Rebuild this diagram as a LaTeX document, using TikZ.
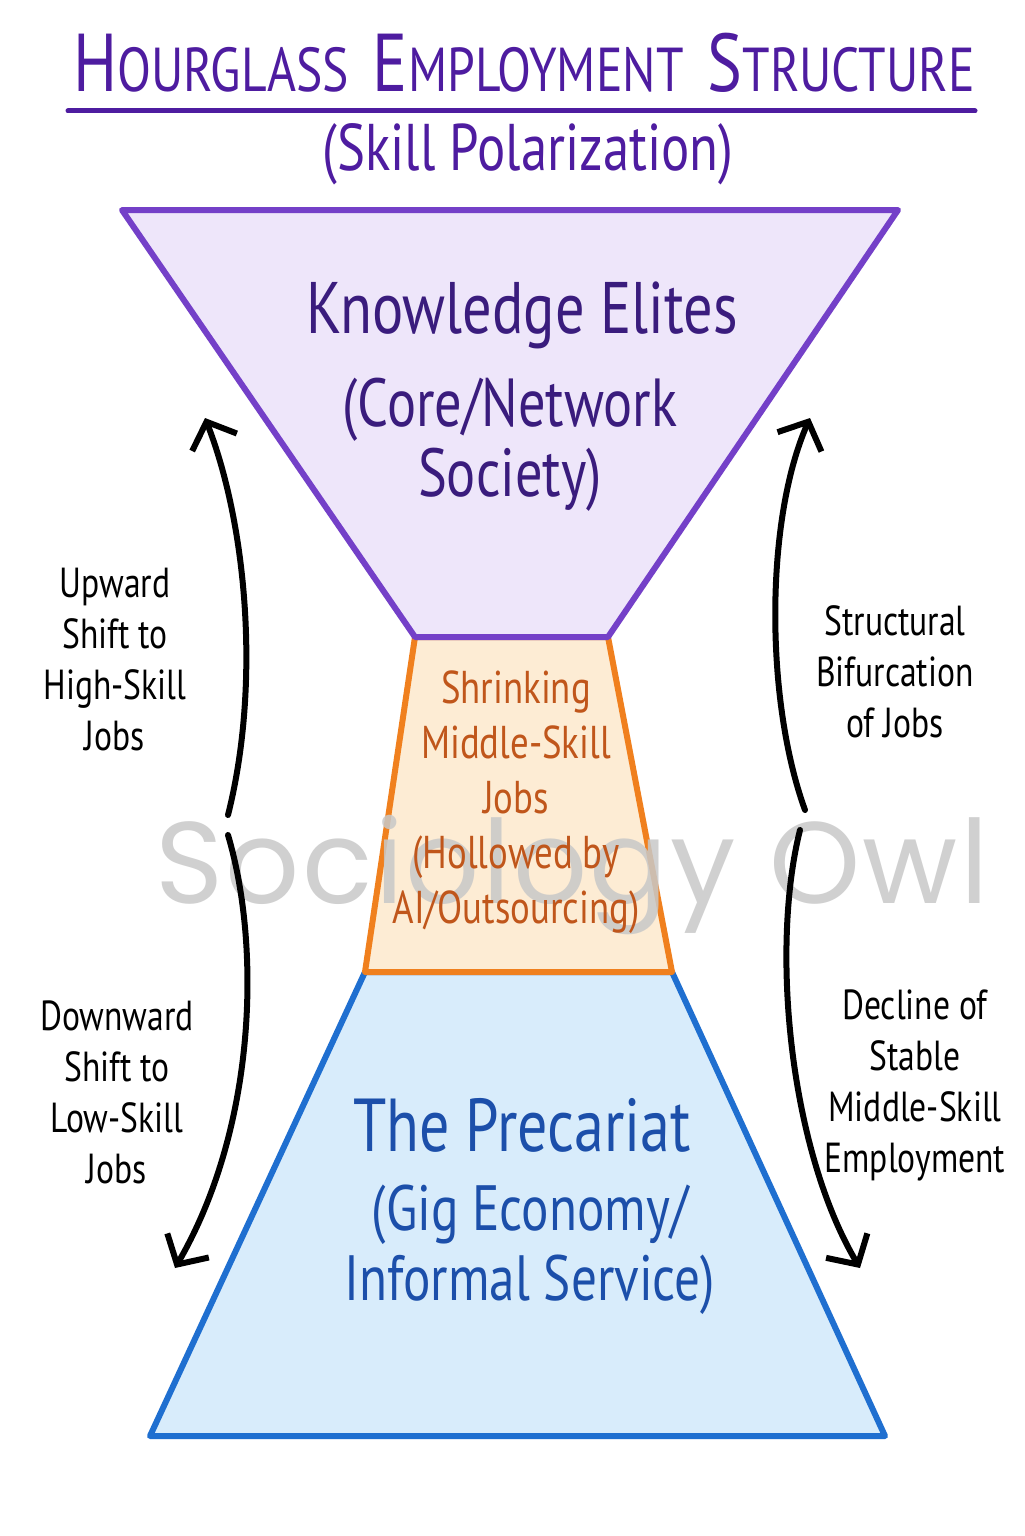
\documentclass[tikz,border=0pt]{standalone}
\usepackage{fontspec}
\setmainfont[FakeStretch=0.8]{PT Sans}
\newfontfamily\markfont[LetterSpace=2]{Poppins}
\usetikzlibrary{arrows.meta}

\definecolor{titlepurple}{RGB}{78,28,160}
\definecolor{elitefill}{RGB}{238,230,250}
\definecolor{elitedraw}{RGB}{116,64,200}
\definecolor{elitetext}{RGB}{58,28,125}
\definecolor{middlefill}{RGB}{253,236,212}
\definecolor{middledraw}{RGB}{240,128,30}
\definecolor{middletext}{RGB}{192,86,27}
\definecolor{precfill}{RGB}{216,236,251}
\definecolor{precdraw}{RGB}{31,111,208}
\definecolor{prectext}{RGB}{28,79,170}
\definecolor{markgray}{RGB}{200,200,200}

\newcommand{\tcap}[2]{{\fontsize{41}{43}\selectfont #1}{\fontsize{31}{33}\selectfont #2}}

\tikzset{
  layer/.style={line width=3pt, line join=round},
  shiftarrow/.style={line width=3pt, line cap=round,
    -{Straight Barb[length=11pt,width=24pt,line width=3pt]}},
  sidelabel/.style={align=center, inner sep=0pt,
    font=\fontsize{21}{25.5}\selectfont},
}

\begin{document}
\begin{tikzpicture}[x=0.5pt,y=-0.5pt]
\useasboundingbox (0,0) rectangle (1024,1536);
\fill[white] (0,0) rectangle (1024,1536);

% title
\node[anchor=base, inner sep=0pt, text=titlepurple] (title) at (524,92)
  {\tcap{H}{OURGLASS}\hspace{12pt}\tcap{E}{MPLOYMENT}\hspace{12pt}\tcap{S}{TRUCTURE}};
\coordinate (ruleL) at (68,111);
\coordinate (ruleR) at (975,111);
\draw[titlepurple, line width=2.5pt, line cap=round] (ruleL) -- (ruleR);
\node[inner sep=0pt, text=titlepurple, font=\fontsize{33}{35}\selectfont] (subtitle) at (528,154)
  {(Skill Polarization)};

% the three layers
\coordinate (topL) at (122,210);
\coordinate (topR) at (898,210);
\coordinate (neckL) at (415,637);
\coordinate (neckR) at (608,637);
\coordinate (waistL) at (365,972);
\coordinate (waistR) at (672,972);
\coordinate (baseL) at (150,1436);
\coordinate (baseR) at (885,1436);
\filldraw[layer, fill=precfill, draw=precdraw] (waistL) -- (waistR) -- (baseR) -- (baseL) -- cycle;
\filldraw[layer, fill=middlefill, draw=middledraw] (neckL) -- (neckR) -- (waistR) -- (waistL) -- cycle;
\filldraw[layer, fill=elitefill, draw=elitedraw] (topL) -- (topR) -- (neckR) -- (neckL) -- cycle;

% watermark
\node[inner sep=0pt, text=markgray, opacity=0.85, font=\markfont\fontsize{58}{60}\selectfont] (mark) at (572,875)
  {Sociology Owl};

\node[inner sep=0pt, text=elitetext, font=\fontsize{36.5}{40}\selectfont] (elites) at (522,315)
  {Knowledge Elites};
\node[inner sep=0pt, align=center, text=elitetext, font=\fontsize{34}{35}\selectfont] (elitesub) at (510,445)
  {(Core/Network\\Society)};
\node[inner sep=0pt, align=center, text=middletext, font=\fontsize{23}{27.5}\selectfont] (middle) at (516,802)
  {Shrinking\\Middle-Skill\\Jobs\\(Hollowed by\\AI/Outsourcing)};
\node[inner sep=0pt, text=prectext, font=\fontsize{37.5}{40}\selectfont] (prec) at (522,1125)
  {The Precariat};
\node[inner sep=0pt, align=center, text=prectext, font=\fontsize{32}{35}\selectfont] (precsub) at (530,1250)
  {(Gig Economy/\\Informal Service)};

% side labels
\node[sidelabel] (up) at (115,660) {Upward\\Shift to\\High-Skill\\Jobs};
\node[sidelabel] (down) at (117,1092) {Downward\\Shift to\\Low-Skill\\Jobs};
\node[sidelabel] (bif) at (895,672) {Structural\\Bifurcation\\of Jobs};
\node[sidelabel] (decl) at (915,1085) {Decline of\\Stable\\Middle-Skill\\Employment};

% arrows
\coordinate (upS) at (228,815);
\coordinate (upE) at (205,418);
\coordinate (downS) at (228,835);
\coordinate (downE) at (175,1268);
\coordinate (bifS) at (805,810);
\coordinate (bifE) at (810,418);
\coordinate (declS) at (800,830);
\coordinate (declE) at (860,1268);
\draw[shiftarrow] (upS) .. controls (262,680) and (245,520) .. (upE);
\draw[shiftarrow] (downS) .. controls (262,950) and (255,1130) .. (downE);
\draw[shiftarrow] (bifS) .. controls (765,700) and (765,520) .. (bifE);
\draw[shiftarrow] (declS) .. controls (770,950) and (790,1150) .. (declE);
\end{tikzpicture}
\end{document}
